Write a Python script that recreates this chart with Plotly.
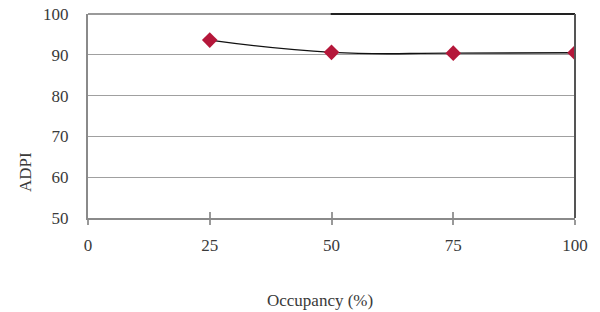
import plotly.graph_objects as go

occupancy = [25, 50, 75, 100]
adpi = [93.6, 90.6, 90.4, 90.5]
x_ticks = [0, 25, 50, 75, 100]
y_ticks = [50, 60, 70, 80, 90, 100]

FONT = "Liberation Serif, Times New Roman, serif"
TXT = "#3a3a3a"

fig = go.Figure()
fig.add_trace(go.Scatter(
    x=occupancy, y=adpi, mode="lines+markers",
    line=dict(color="#111111", width=1.4, shape="spline", smoothing=1.3),
    marker=dict(symbol="diamond", size=12, color="#b5173a"),
    showlegend=False,
))
fig.add_trace(go.Scatter(x=occupancy, y=adpi, xaxis="x2", mode="markers",
                         marker=dict(opacity=0), hoverinfo="skip", showlegend=False))

L, R, T, B = 88, 25, 14, 94
fig.update_layout(
    template="none",
    width=600, height=312, autosize=False,
    margin=dict(l=L, r=R, t=T, b=B, pad=0),
    paper_bgcolor="white", plot_bgcolor="white",
    font=dict(family=FONT, size=17, color=TXT),
    xaxis=dict(range=[0, 100], tickvals=x_ticks, showgrid=False, zeroline=False,
               automargin=False,
               showline=True, linecolor="#8a8a8a", linewidth=2,
               ticks="outside", ticklen=5, tickcolor="#999999", tickwidth=1.5,
               ticklabelstandoff=6,
               tickfont=dict(family=FONT, size=17, color=TXT)),
    xaxis2=dict(range=[0, 100], overlaying="x", tickvals=[25, 50, 75], showticklabels=False,
                automargin=False,
                showgrid=False, zeroline=False, showline=False, ticks="inside", ticklen=6,
                tickcolor="#999999", tickwidth=1.5, side="bottom", anchor="y"),
    yaxis=dict(range=[50, 100], tickvals=y_ticks, showgrid=True, gridcolor="#a0a0a0",
               automargin=False,
               gridwidth=1.2, zeroline=False, showline=True, linecolor="#8a8a8a",
               linewidth=2, ticks="", ticklabelstandoff=14,
               tickfont=dict(family=FONT, size=17, color=TXT)),
    shapes=[
        dict(type="line", xref="paper", yref="paper", x0=0, x1=0.498, y0=1, y1=1,
             line=dict(color="#9a9a9a", width=2)),
        dict(type="line", xref="paper", yref="paper", x0=0.498, x1=1, y0=1, y1=1,
             line=dict(color="#222222", width=2)),
        dict(type="line", xref="paper", yref="paper", x0=1, x1=1, y0=0, y1=1,
             line=dict(color="#555555", width=2)),
    ],
)

pw, ph = 600 - L - R, 312 - T - B
fig.update_layout(annotations=[
    dict(text="ADPI", xref="paper", yref="paper", x=(25 - L) / pw, y=(312 - B - 172) / ph,
         xanchor="center", yanchor="middle", showarrow=False, textangle=-90,
         font=dict(family=FONT, size=17, color=TXT)),
    dict(text="Occupancy (%)", xref="paper", yref="paper", x=(320 - L) / pw,
         y=-(300 - (312 - B)) / ph, xanchor="center", yanchor="middle", showarrow=False,
         font=dict(family=FONT, size=17, color=TXT)),
])

fig.write_html("out.html", config={"displayModeBar": False},
               post_script="document.body.style.margin='0';document.body.style.padding='0';")
